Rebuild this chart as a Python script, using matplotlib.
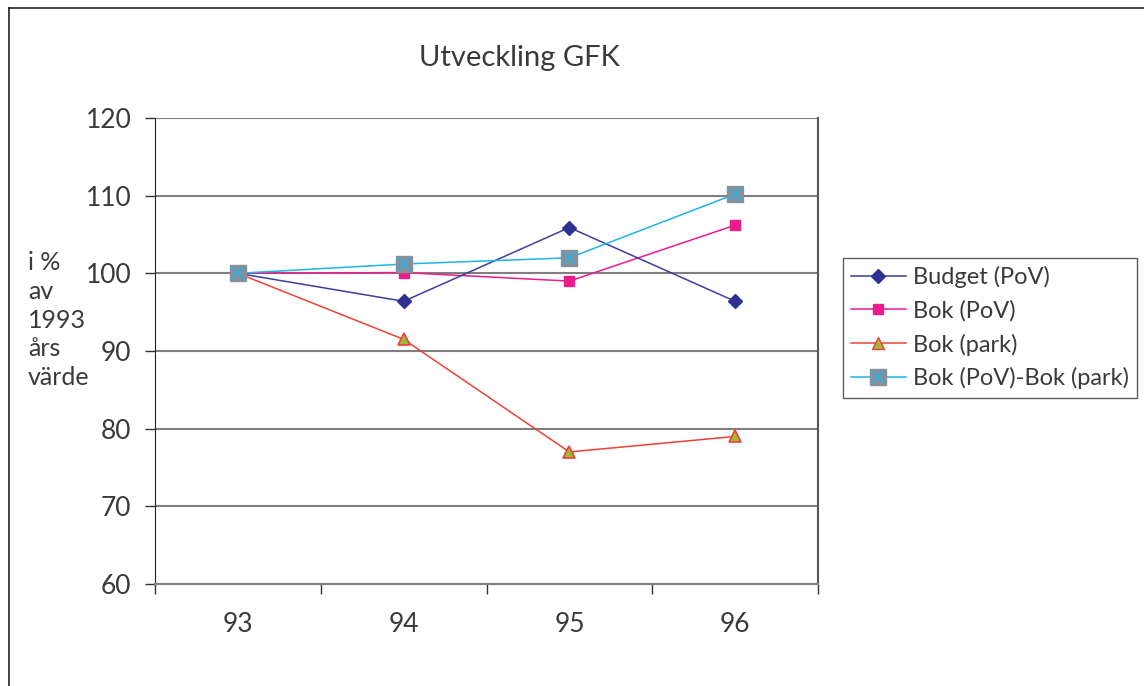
import matplotlib
matplotlib.use("Agg")
import matplotlib.pyplot as plt
from matplotlib.lines import Line2D
from matplotlib.legend_handler import HandlerTuple
import numpy as np

plt.rcParams['font.family'] = ['Lato', 'DejaVu Sans']

years = ["93", "94", "95", "96"]
budget_pov = [100.0, 96.4, 105.9, 96.4]
bok_pov = [100.0, 100.1, 99.0, 106.2]
bok_park = [100.0, 91.5, 77.0, 79.0]
bok_diff = [100.0, 101.2, 102.0, 110.2]
yticks = [60, 70, 80, 90, 100, 110, 120]

TXT = '#3a3a3a'
fig = plt.figure(figsize=(11.44, 6.86), dpi=100)
ax = fig.add_axes([155/1144, 1-584/686, (818-155)/1144, (584-118)/686])

x = np.arange(len(years))
ax.plot(x, budget_pov, color='#3B3F9A', lw=1.1, marker='D', ms=7,
        mfc='#2E3192', mec='#2E3192', zorder=4)
ax.plot(x, bok_pov, color='#EC1C8C', lw=1.1, marker='s', ms=7,
        mfc='#EC1C8C', mec='#EC1C8C', zorder=3)
ax.plot(x, bok_park, color='#EF4136', lw=1.1, marker='^', ms=9,
        mfc='#9BBB3B', mec='#EF4136', mew=1.2, zorder=3)
ax.plot(x, bok_diff, color='#1BB5E8', lw=1.1, marker='s', ms=12,
        mfc='#87909A', mec='#87909A', zorder=5)
ax.plot(x, bok_diff, color='none', marker='x', ms=9, mec='#1BB5E8',
        mew=1.2, zorder=6)

ax.set_xlim(-0.5, 3.5)
ax.set_ylim(60, 120)
ax.set_yticks(yticks)
ax.set_yticklabels([str(v) for v in yticks])
ax.yaxis.grid(True, color='#7F7F7F', lw=1.5)
ax.set_axisbelow(True)
ax.set_xticks(x)
ax.set_xticklabels(years)
ax.set_xticks(np.arange(-0.5, 3.6, 1), minor=True)
ax.tick_params(axis='x', which='major', length=0, pad=20, labelsize=19, labelcolor=TXT)
ax.tick_params(axis='x', which='minor', length=7, color='#333333', width=1)
ax.tick_params(axis='y', length=7, width=1, color='#333333', labelsize=19,
               labelcolor=TXT, pad=10)
ax.spines['top'].set_visible(False)
ax.spines['left'].set_color('#222222')
ax.spines['bottom'].set_color('#7F7F7F')
ax.spines['bottom'].set_linewidth(1.5)
ax.spines['right'].set_color('#555555')
ax.spines['right'].set_linewidth(1.5)

fig.text(519/1144, 1-58/686, "Utveckling GFK", ha='center', va='center',
         fontsize=21, color=TXT)
fig.text(28/1144, 1-320/686, "i %\nav\n1993\nårs\nvärde", ha='left', va='center',
         fontsize=18, color=TXT, linespacing=1.3)

h1 = Line2D([], [], color='#3B3F9A', lw=1.1, marker='D', ms=7, mfc='#2E3192', mec='#2E3192')
h2 = Line2D([], [], color='#EC1C8C', lw=1.1, marker='s', ms=7, mfc='#EC1C8C', mec='#EC1C8C')
h3 = Line2D([], [], color='#EF4136', lw=1.1, marker='^', ms=9, mfc='#9BBB3B', mec='#EF4136')
h4a = Line2D([], [], color='#1BB5E8', lw=1.1, marker='s', ms=12, mfc='#87909A', mec='#87909A')
h4b = Line2D([], [], color='none', marker='x', ms=9, mec='#1BB5E8', mew=1.2)
leg = fig.legend([h1, h2, h3, (h4a, h4b)],
                 ["Budget (PoV)", "Bok (PoV)", "Bok (park)", "Bok (PoV)-Bok (park)"],
                 handler_map={tuple: HandlerTuple(ndivide=1)},
                 loc='upper left', bbox_to_anchor=(843/1144, 1-258/686),
                 frameon=True, fancybox=False, edgecolor='#333333', fontsize=17,
                 handlelength=2.3, handletextpad=0.3, borderpad=0.35,
                 labelspacing=0.5, borderaxespad=0)
leg.get_frame().set_linewidth(1.0)
for t in leg.get_texts():
    t.set_color(TXT)

fig.add_artist(Line2D([9/1144, 9/1144], [0, 1-8/686], color='#222222', lw=1.2))
fig.add_artist(Line2D([9/1144, 1], [1-8/686, 1-8/686], color='#222222', lw=1.2))

fig.savefig("out.png", dpi=100)
